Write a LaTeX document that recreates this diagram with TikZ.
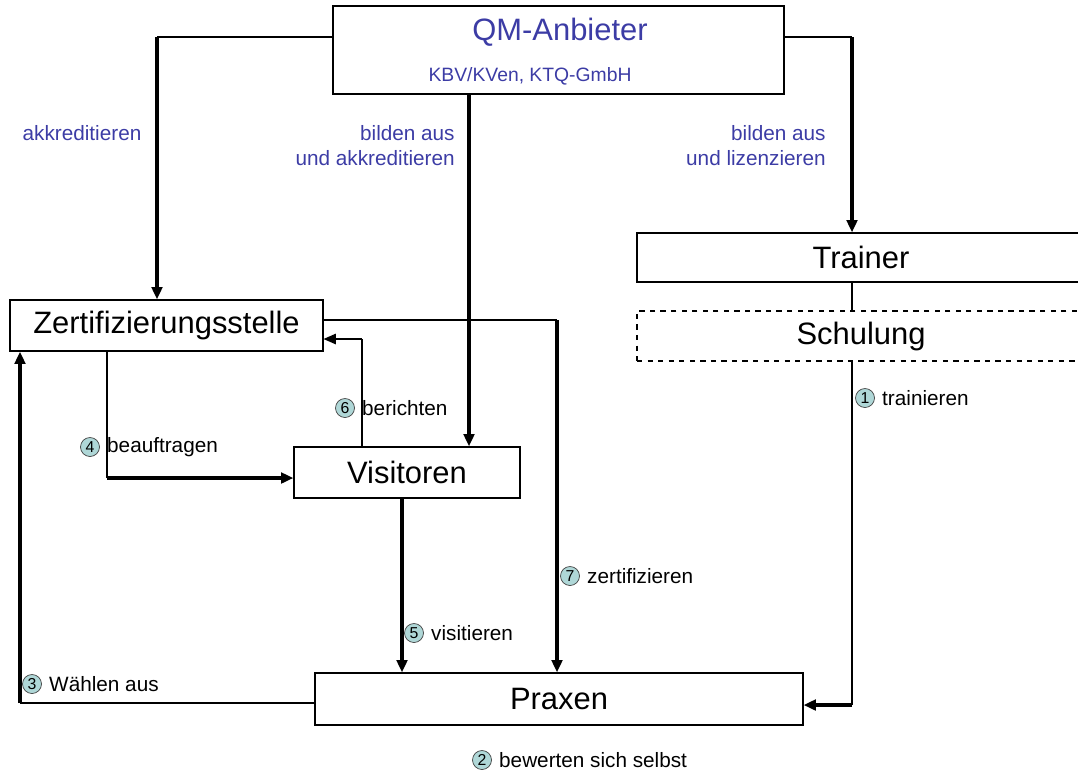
\documentclass[tikz,border=0pt]{standalone}
\usepackage{fontspec}
\setmainfont{Liberation Sans}
\usetikzlibrary{positioning, arrows.meta}
\definecolor{qmblue}{RGB}{60,60,165}
\definecolor{nrfill}{RGB}{175,215,215}

\begin{document}
\begin{tikzpicture}[
        x=0.02cm, y=-0.02cm,
        box/.style={draw, line width=0.7pt, inner sep=0pt, font=\fontsize{17.6}{20}\selectfont},
        lbl/.style={inner sep=0pt, anchor=west, font=\fontsize{11.8}{14}\selectfont},
        blue lbl/.style={inner sep=0pt, text=qmblue, font=\fontsize{11.8}{14.2}\selectfont},
        nr/.style={circle, draw=black!75, fill=nrfill, inner sep=0pt, minimum size=0.38cm, font=\fontsize{9}{9}\selectfont},
        thinline/.style={line width=0.6pt},
        arrow/.style={-{Triangle[length=7pt,width=6pt]}, line width=2pt},
        thinarrow/.style={-{Triangle[length=7pt,width=6pt]}, line width=0.6pt},
    ]
        \useasboundingbox (0,0) rectangle (1078,772);

        % Boxes
        \node[box, minimum width=9.02cm, minimum height=1.76cm] (qm) at (558.5,50) {};
        \node[text=qmblue, font=\fontsize{17.6}{20}\selectfont] (qmtitle) at (560,32) {QM-Anbieter};
        \node[text=qmblue, font=\fontsize{11}{13}\selectfont] (qmsub) at (530,76) {KBV/KVen, KTQ-GmbH};
        \node[box, minimum width=6.26cm, minimum height=1.02cm] (zert) at (166.5,325.5) {Zertifizierungsstelle};
        \node[box, minimum width=4.52cm, minimum height=1.02cm] (vis) at (407,472.5) {Visitoren};
        \node[box, minimum width=9.76cm, minimum height=1.04cm] (praxen) at (559,699) {Praxen};
        \node[box, minimum width=8.96cm, minimum height=0.98cm] (trainer) at (861,257.5) {Trainer};
        \node[box, dashed, minimum width=8.96cm, minimum height=1.0cm] (schulung) at (861,336) {Schulung};

        % Bend points
        \coordinate (c1) at (157,37);
        \coordinate (c2) at (469,94);
        \coordinate (c3) at (852,37);
        \coordinate (c4) at (852,705);
        \coordinate (c5) at (107,478);
        \coordinate (c6) at (362,339);
        \coordinate (c7) at (557,320);
        \coordinate (c8) at (402,498);
        \coordinate (c9) at (20,703);

        % QM-Anbieter
        \draw[thinline] (qm.west |- c1) -- (c1);
        \draw[arrow] (c1) -- (zert.north -| c1);
        \draw[arrow] (qm.south -| c2) -- (vis.north -| c2);
        \draw[thinline] (qm.east |- c3) -- (c3);
        \draw[arrow] (c3) -- (trainer.north -| c3);
        % Trainer / Schulung
        \draw[thinline] (trainer.south -| c3) -- (schulung.north -| c3);
        \draw[thinline] (schulung.south -| c4) -- (c4);
        \draw[arrow] (c4) -- (praxen.east |- c4);
        % Zertifizierungsstelle / Visitoren
        \draw[thinline] (zert.south -| c5) -- (c5);
        \draw[arrow] (c5) -- (vis.west |- c5);
        \draw[thinline] (vis.north -| c6) -- (c6);
        \draw[thinarrow] (c6) -- (zert.east |- c6);
        \draw[thinline] (zert.east |- c7) -- (c7);
        \draw[arrow] (c7) -- (praxen.north -| c7);
        \draw[arrow] (vis.south -| c8) -- (praxen.north -| c8);
        \draw[thinline] (praxen.west |- c9) -- (c9);
        \draw[arrow] (c9) -- (zert.south -| c9);

        % Labels
        \node[blue lbl] (akk) at (82,133) {akkreditieren};
        \node[blue lbl, align=right, anchor=east] (bild1) at (455,146) {bilden aus\\und akkreditieren};
        \node[blue lbl, align=right, anchor=east] (bild2) at (826,146) {bilden aus\\und lizenzieren};

        \node[nr] (n1) at (865,398) {1};
        \node[lbl, right=1.4mm of n1] (l1) {trainieren};
        \node[nr] (n2) at (482,760) {2};
        \node[lbl, right=1.4mm of n2] (l2) {bewerten sich selbst};
        \node[nr] (n3) at (32,684) {3};
        \node[lbl, right=1.4mm of n3] (l3) {Wählen aus};
        \node[nr] (n4) at (90,447) {4};
        \node[lbl, right=1.4mm of n4] (l4) {beauftragen};
        \node[nr] (n5) at (414,633) {5};
        \node[lbl, right=1.4mm of n5] (l5) {visitieren};
        \node[nr] (n6) at (345,408) {6};
        \node[lbl, right=1.4mm of n6] (l6) {berichten};
        \node[nr] (n7) at (570,576) {7};
        \node[lbl, right=1.4mm of n7] (l7) {zertifizieren};
    \end{tikzpicture}
\end{document}
